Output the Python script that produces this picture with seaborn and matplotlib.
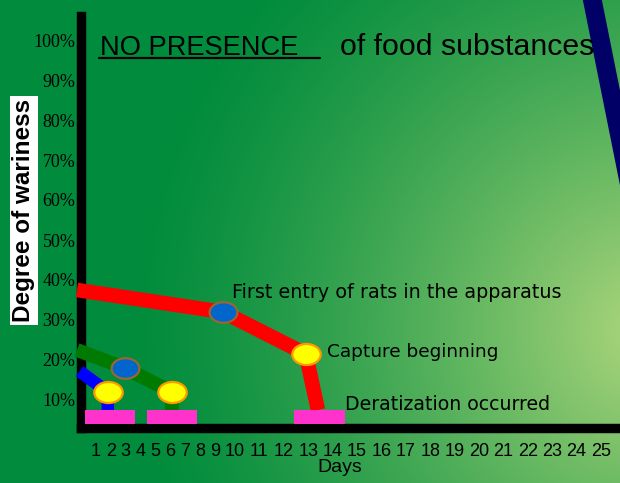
import numpy as np
import matplotlib
matplotlib.use("Agg")
import matplotlib.pyplot as plt
from matplotlib.lines import Line2D
from matplotlib.path import Path
import seaborn as sns

# ---- data (days, % wariness) ----
red_days = [-0.27, 9.4, 12.9, 13.4]
red_pct = [37.5, 32.0, 21.5, 7.5]
green_days = [-0.27, 2.95, 6.1, 6.1]
green_pct = [22.5, 18.0, 12.0, 7.5]
blue_days = [-0.1, 1.8, 1.8]
blue_pct = [17.2, 12.0, 7.5]
stray_days = [24.53, 26.15]
stray_pct = [113.0, 63.75]

entry_days = [9.4, 2.95]          # blue dots: first entry in the apparatus
entry_pct = [32.0, 18.0]
capture_days = [12.9, 1.8, 6.1]   # yellow dots: capture beginning
capture_pct = [21.5, 12.0, 12.0]

derat_start = [0.27, 4.43, 12.43]  # pink bars: deratization occurred
derat_end = [3.6, 7.8, 14.5]
derat_low = 4.0
derat_high = 7.5

day_ticks = list(range(1, 26))
pct_ticks = list(range(10, 101, 10))
pct_labels = [f"{p}%" for p in pct_ticks]

# ---- uneven day axis, like the typed-in day labels of the slide ----
knot_days = np.array([-10, 0, 9, 10, 25, 50])
knot_px = np.array([-69, 81, 215, 235, 601, 1211])


def fwd(d):
    return np.interp(d, knot_days, knot_px)


def inv(p):
    return np.interp(p, knot_px, knot_days)


sns.set_theme(style="white")
plt.rcParams["font.family"] = ["Liberation Sans", "DejaVu Sans"]

W, H = 620, 483
fig = plt.figure(figsize=(W / 100, H / 100), dpi=100)

# background gradient
bg = fig.add_axes([0, 0, 1, 1], zorder=-5)
yy, xx = np.mgrid[0:H, 0:W]
d = np.sqrt((xx - 650) ** 2 + (yy - 330) ** 2)
t = np.clip(1 - d / 520, 0, 1) ** 1.3
dark = np.array([0, 140, 60]) / 255
light = np.array([175, 215, 125]) / 255
img = dark + (light - dark) * t[..., None]
bg.imshow(img, aspect="auto", extent=[0, 1, 0, 1])
bg.axis("off")

# main axes, placed on the slide's plot area
left, right, top, bottom = 81, 620, 16, 428
ax = fig.add_axes([left / W, (H - bottom) / H, (right - left) / W, (bottom - top) / H])
ax.set_facecolor("none")
ax.set_xscale("function", functions=(fwd, inv))
ax.set_xlim(0, inv(right))
ax.set_ylim((440 - bottom) / 4, (440 - top) / 4)

for side in ["top", "right"]:
    ax.spines[side].set_visible(False)
for side in ["left", "bottom"]:
    ax.spines[side].set_color("black")
    ax.spines[side].set_linewidth(6.8)
    ax.spines[side].set_capstyle("projecting")

line_kw = dict(estimator=None, sort=False, legend=False, ax=ax)
sns.lineplot(x=red_days, y=red_pct, color="#ff0000", lw=10.5,
             solid_capstyle="butt", clip_on=False, zorder=3, **line_kw)
sns.lineplot(x=green_days, y=green_pct, color="#007a00", lw=10,
             solid_capstyle="butt", clip_on=False, zorder=3, **line_kw)
sns.lineplot(x=blue_days, y=blue_pct, color="#0000ff", lw=9,
             solid_capstyle="butt", clip_on=False, zorder=3, **line_kw)

# thick navy stroke running off the slide edge (drawn as a band so it is not cut)
stray_half = 0.39
ax.fill_betweenx(stray_pct, np.array(stray_days) - stray_half,
                 np.array(stray_days) + stray_half,
                 color="#000066", lw=0, clip_on=False, zorder=3)

ax.bar(derat_start, derat_high - derat_low,
       width=np.array(derat_end) - np.array(derat_start),
       bottom=derat_low, align="edge", color="#ff33cc", lw=0, zorder=4)

ang = np.linspace(0, 2 * np.pi, 60)
ellipse = Path(np.column_stack([np.cos(ang), 0.74 * np.sin(ang)]), closed=True)
sns.scatterplot(x=entry_days, y=entry_pct, marker=ellipse, s=400,
                color="#0066cc", edgecolor="#996633", linewidth=1.6,
                zorder=5, clip_on=False, legend=False, ax=ax)
sns.scatterplot(x=capture_days, y=capture_pct, marker=ellipse, s=420,
                color="#ffff00", edgecolor="#ff9900", linewidth=1.6,
                zorder=5, clip_on=False, legend=False, ax=ax)

# ticks
ax.set_xticks(day_ticks)
ax.set_xticklabels([str(x) for x in day_ticks], fontsize=13)
ax.set_yticks(pct_ticks)
ax.set_yticklabels(pct_labels, fontsize=13, family=["Liberation Serif"])
ax.tick_params(axis="x", length=0, pad=11, colors="black")
ax.tick_params(axis="y", length=0, pad=4, colors="black")
ax.minorticks_off()

ax.set_xlabel("Days", fontsize=14, color="black")
ax.xaxis.set_label_coords((340 - left) / (right - left), -(468 - bottom) / (bottom - top))
ax.xaxis.label.set_va("center")

# annotations
note_kw = dict(color="black", va="center", family=["DejaVu Sans"])
ax.text(9.85, 36.75, "First entry of rats in the apparatus", fontsize=13.8, **note_kw)
ax.text(13.78, 22.0, "Capture beginning", fontsize=13.3, **note_kw)
ax.text(14.5, 9.0, "Deratization occurred", fontsize=13.6, **note_kw)

# title, underlined first part
fig.text(100 / W, (H - 55) / H, "NO PRESENCE", fontsize=19.6, va="baseline", color="black")
fig.text(340 / W, (H - 55) / H, "of food substances", fontsize=21.8, va="baseline", color="black")
fig.add_artist(Line2D([99 / W, 320 / W], [(H - 58) / H] * 2, color="black", lw=1.6))

# y label in a white box
fig.text(24 / W, 1 - 210.5 / H, "Degree of wariness", rotation=90, fontsize=17.5,
         fontweight="bold", color="black", ha="center", va="center",
         bbox=dict(boxstyle="square,pad=0.12", fc="white", ec="none"))

fig.savefig("out.png", dpi=100)
